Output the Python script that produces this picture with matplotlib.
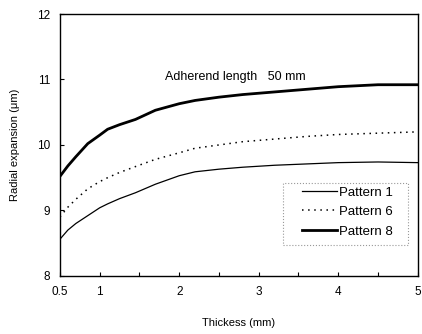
import matplotlib
matplotlib.use("Agg")
import matplotlib.pyplot as plt
from matplotlib.patches import Rectangle

plt.rcParams['font.family'] = ['Liberation Sans', 'DejaVu Sans']

# thickness (mm) and radial expansion (um)
thickness = [0.5, 0.6, 0.7, 0.85, 1.0, 1.1, 1.25, 1.45, 1.7, 2.0, 2.2, 2.5, 2.8, 3.2, 3.6, 4.0, 4.5, 5.0]
pattern1 = [8.56, 8.70, 8.80, 8.92, 9.04, 9.10, 9.18, 9.27, 9.40, 9.53, 9.59, 9.63, 9.66, 9.69, 9.71, 9.73, 9.74, 9.73]
pattern6 = [8.90, 9.05, 9.17, 9.33, 9.44, 9.50, 9.58, 9.67, 9.78, 9.88, 9.95, 10.00, 10.05, 10.09, 10.13, 10.16, 10.18, 10.20]
pattern8 = [9.52, 9.68, 9.82, 10.02, 10.15, 10.24, 10.31, 10.39, 10.53, 10.63, 10.68, 10.73, 10.77, 10.81, 10.85, 10.89, 10.92, 10.92]

xticks = [0.5, 1, 2, 3, 4, 5]
xticklabels = ["0.5", "1", "2", "3", "4", "5"]
yticks = [8, 9, 10, 11, 12]

fig = plt.figure(figsize=(4.22, 3.34), dpi=100)
ax = fig.add_axes([0.142, 0.174, 0.848, 0.784])

ax.plot(thickness, pattern1, color="black", lw=0.9, label="Pattern 1")
ax.plot(thickness, pattern6, color="black", lw=1.1, ls=(0, (1, 3)), label="Pattern 6")
ax.plot(thickness, pattern8, color="black", lw=2.0, label="Pattern 8")

ax.set_xlim(0.5, 5)
ax.set_ylim(8, 12)
ax.set_xticks(xticks)
ax.set_xticklabels(xticklabels)
ax.set_xticks([1.5, 2.5, 3.5, 4.5], minor=True)
ax.set_yticks(yticks)
ax.tick_params(direction="in", length=3, width=0.8, labelsize=8.5, pad=7)
ax.tick_params(which="minor", direction="in", length=3, width=0.8)
for s in ax.spines.values():
    s.set_linewidth(1.0)

ax.set_xlabel("Thickess (mm)", fontsize=8, labelpad=15)
ax.set_ylabel("Radial expansion (\u03bcm)", fontsize=8, labelpad=12)

ax.text(0.293, 0.76, "Adherend length   50 mm", fontsize=9,
        transform=ax.transAxes, va="center")

# legend frame drawn separately (dotted grey box)
ax.add_patch(Rectangle((0.623, 0.118), 0.349, 0.237, transform=ax.transAxes,
                       fill=False, ec="#999999", ls=":", lw=0.8, zorder=4))
leg = ax.legend(loc="upper left", bbox_to_anchor=(0.676, 0.342), fontsize=9.5,
                frameon=False, handlelength=2.7, handletextpad=0.15,
                borderpad=0, labelspacing=0.55, borderaxespad=0)

fig.savefig("out.png", dpi=100)
